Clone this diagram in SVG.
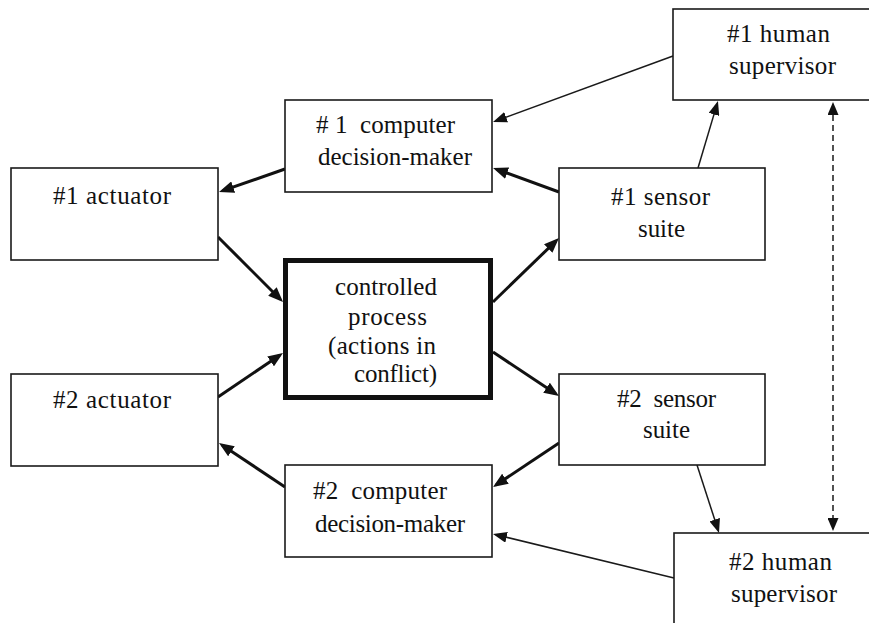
<svg xmlns="http://www.w3.org/2000/svg" width="869" height="623" viewBox="0 0 869 623">
<style>
.box{fill:#fff;stroke:#1a1a1a;stroke-width:1.6}
.proc{fill:#fff;stroke:#111;stroke-width:5}
.thick{stroke:#111;stroke-width:3;fill:none;marker-end:url(#ah)}
.thin{stroke:#1a1a1a;stroke-width:1.5;fill:none;marker-end:url(#ahs)}
.dash{stroke:#1a1a1a;stroke-width:1.5;fill:none;stroke-dasharray:6,4;marker-start:url(#ahd);marker-end:url(#ahd)}
</style>
<defs>
<marker id="ah" markerUnits="userSpaceOnUse" markerWidth="15" markerHeight="12" refX="11" refY="6" orient="auto"><path d="M0,0 L15,6 L0,12 z" fill="#111"/></marker>
<marker id="ahs" markerUnits="userSpaceOnUse" markerWidth="14" markerHeight="11" refX="11" refY="5.5" orient="auto"><path d="M0,0 L14,5.5 L0,11 z" fill="#111"/></marker>
<marker id="ahd" markerUnits="userSpaceOnUse" markerWidth="13" markerHeight="11" refX="10" refY="5.5" orient="auto-start-reverse"><path d="M0,0 L13,5.5 L0,11 z" fill="#111"/></marker>
</defs>
<rect width="869" height="623" fill="#fff"/>
<g id="connectors">
<line class="thick" x1="285" y1="169" x2="222.8" y2="190.7"/>
<line class="thick" x1="218" y1="237" x2="280.2" y2="299.2"/>
<line class="thick" x1="493" y1="302" x2="556.1" y2="240.8"/>
<line class="thick" x1="559" y1="192" x2="496.8" y2="169.4"/>
<line class="thin" x1="698" y1="168" x2="717.1" y2="103.9"/>
<line class="thin" x1="673" y1="56" x2="495.8" y2="121"/>
<line class="dash" x1="833" y1="105" x2="833" y2="528"/>
<line class="thick" x1="218" y1="397" x2="279.7" y2="355.2"/>
<line class="thick" x1="285" y1="487" x2="222.3" y2="445.2"/>
<line class="thick" x1="493" y1="352" x2="555.7" y2="393.8"/>
<line class="thick" x1="559" y1="443" x2="496.3" y2="484.8"/>
<line class="thin" x1="697" y1="465" x2="718.1" y2="530.1"/>
<line class="thin" x1="674" y1="578" x2="495.9" y2="534.7"/>
</g>
<g font-family="Liberation Serif, Times New Roman, DejaVu Serif, serif" font-size="25" fill="#111">
<g id="actuator1"><rect class="box" x="11" y="168" width="207" height="92"/><text x="53" y="204" textLength="118">#1 actuator</text></g>
<g id="computer1"><rect class="box" x="285" y="100" width="207" height="92"/><text x="316" y="133" textLength="139" xml:space="preserve"># 1  computer</text><text x="318" y="165" textLength="154">decision-maker</text></g>
<g id="human1"><rect class="box" x="673" y="9" width="212" height="91"/><text x="727" y="42" textLength="103">#1 human</text><text x="729" y="74" textLength="107">supervisor</text></g>
<g id="sensor1"><rect class="box" x="559" y="168" width="206" height="92"/><text x="611" y="205" textLength="99">#1 sensor</text><text x="638" y="237" textLength="47">suite</text></g>
<g id="process"><rect class="proc" x="285.5" y="260.5" width="205" height="137"/><text x="335" y="295" textLength="102">controlled</text><text x="348" y="325" textLength="79">process</text><text x="328" y="354" textLength="108">(actions in</text><text x="354" y="382" textLength="83">conflict)</text></g>
<g id="actuator2"><rect class="box" x="11" y="374" width="207" height="92"/><text x="53" y="408" textLength="118">#2 actuator</text></g>
<g id="computer2"><rect class="box" x="285" y="465" width="207" height="92"/><text x="313" y="499" textLength="134" xml:space="preserve">#2  computer</text><text x="315" y="532" textLength="150">decision-maker</text></g>
<g id="sensor2"><rect class="box" x="559" y="374" width="206" height="91"/><text x="617" y="407" textLength="99" xml:space="preserve">#2  sensor</text><text x="643" y="438" textLength="47">suite</text></g>
<g id="human2"><rect class="box" x="674" y="533" width="212" height="100"/><text x="729" y="570" textLength="103">#2 human</text><text x="731" y="602" textLength="106">supervisor</text></g>
</g>
</svg>
